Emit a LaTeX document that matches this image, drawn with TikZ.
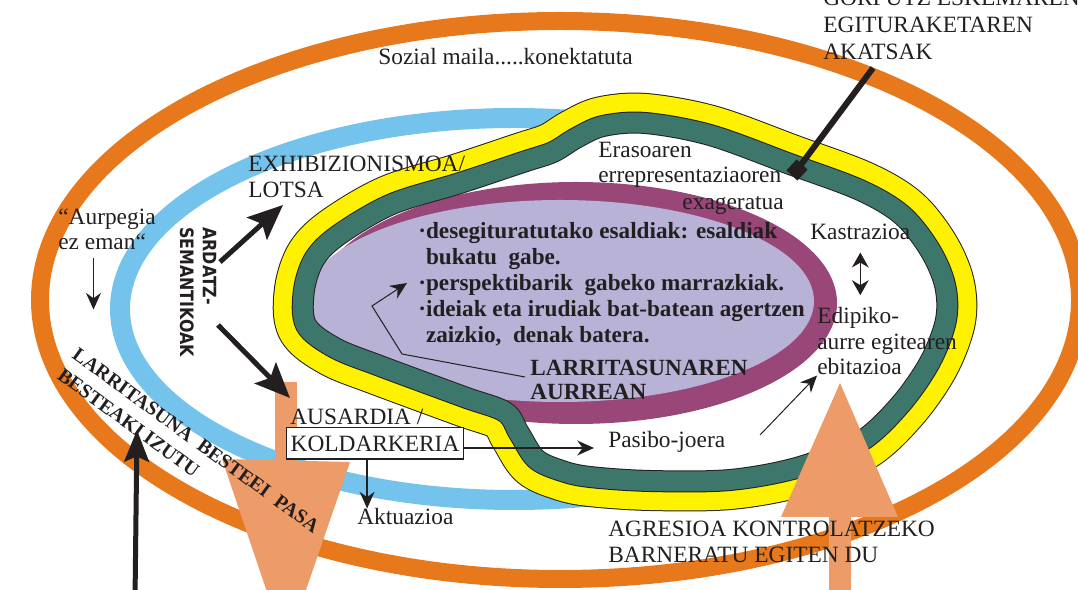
\documentclass[tikz,border=0pt]{standalone}
\usepackage{fontspec}
\setmainfont{Liberation Serif}
\newfontfamily\ardatzfont{DejaVu Sans}[FakeStretch=0.86]
\usetikzlibrary{arrows.meta}
\definecolor{orng}{RGB}{232,120,28}
\definecolor{skyb}{RGB}{115,195,237}
\definecolor{yelo}{RGB}{255,242,0}
\definecolor{grn}{RGB}{61,118,106}
\definecolor{purp}{RGB}{152,71,120}
\definecolor{lavn}{RGB}{183,178,214}
\definecolor{salm}{RGB}{237,155,104}
\definecolor{ink}{RGB}{35,31,32}
\newcommand\pxl{0.569pt}
\newcommand\blobpath{plot[smooth cycle, tension=0.55] coordinates {(306,325) (304,290) (315,258) (340,234) (392,204) (460,183) (523,162) (553,152) (576,138) (603,126) (645,123) (710,135) (790,164) (860,190) (902,215) (930,250) (945,285) (946,320) (930,362) (900,405) (860,442) (800,467) (730,480) (650,481) (590,477) (562,471) (536,459) (519,433) (505,412) (464,397) (380,366) (335,348)}}
\tikzset{> = {Stealth[length=9.5pt,width=8.5pt]},
  txt/.style={anchor=base west, inner sep=0pt, align=left, text=ink, font=\fontsize{13.3}{14.6}\selectfont},
  bold/.style={txt, font=\fontsize{13.2}{14.9}\selectfont\bfseries},
  rot/.style={txt, rotate=-36, font=\fontsize{11.3}{14.4}\selectfont\bfseries},
  ardatz/.style={txt, rotate=-90, font=\ardatzfont\bfseries\fontsize{10.5}{13}\selectfont},
  thinarr/.style={->, draw=ink, line width=1.3*\pxl},
  thickarr/.style={-{Stealth[length=20pt,width=17pt,inset=4pt]}, draw=ink, line width=5*\pxl}}
\begin{document}
\begin{tikzpicture}[x=0.02cm, y=-0.02cm]
\useasboundingbox (0,0) rectangle (1078,590);
\clip (0,0) rectangle (1078,590);
\draw[orng, line width=18*\pxl] (560,300) ellipse [x radius=520, y radius=279];
\draw[skyb, line width=20*\pxl] (514,309) ellipse [x radius=394, y radius=191];
\draw[ink, line width=60*\pxl, line join=round] \blobpath;
\draw[yelo, line width=58*\pxl, line join=round] \blobpath;
\fill[white] \blobpath;
\begin{scope}
\clip \blobpath;
\fill[purp] (576,303) ellipse [x radius=261, y radius=121];
\fill[lavn] (560,301) ellipse [x radius=254, y radius=101];
\end{scope}
\draw[ink, line width=22*\pxl] \blobpath;
\draw[grn, line width=20*\pxl] \blobpath;
\fill[salm] (275,382) rectangle (297,464);
\fill[salm] (222,459) -- (350,462) -- (286,648) -- cycle;
\fill[salm] (829,515) rectangle (851,600);
\fill[salm] (781,517) -- (898,517) -- (840,383) -- cycle;

\node[txt] (sozial) at (378,65) {Sozial maila.....konektatuta};
\node[txt, font=\fontsize{13.3}{15.4}\selectfont] (gorputz) at (823,60) {GORPUTZ ESKEMAREN\\EGITURAKETAREN\\AKATSAK};
\node[txt, font=\fontsize{13.3}{15.1}\selectfont] (exhib) at (248,198) {EXHIBIZIONISMOA/\\LOTSA};
\node[txt] (aurpeg) at (58,250) {“Aurpegia\\ez eman“};
\node[txt] (eraso) at (598,183) {Erasoaren\\errepresentaziaoren};
\node[txt, anchor=base east] (exag) at (784,210) {exageratua};
\node[bold] (bullets) at (418,343) {·desegituratutako esaldiak: esaldiak\\\phantom{·}bukatu\ \ gabe.\\·perspektibarik\ \ gabeko marrazkiak.\\·ideiak eta irudiak bat-batean agertzen\\\phantom{·}zaizkio,\ \ denak batera.};
\node[bold, font=\fontsize{13.2}{14.2}\selectfont\bfseries] (larri) at (530,400) {LARRITASUNAREN\\AURREAN};
\node[txt] (kastr) at (810,240) {Kastrazioa};
\node[txt] (edip) at (817,375) {Edipiko-\\aurre egitearen\\ebitazioa};
\node[txt] (ausar) at (290,425) {AUSARDIA /};
\node[txt, draw=ink, line width=1.2*\pxl, fill=white, inner xsep=2.3pt, inner ysep=1pt, text height=13pt, text depth=3pt] (kold) at (286,452) {KOLDARKERIA};
\node[txt] (pasibo) at (608,448) {Pasibo-joera};
\node[txt] (aktu) at (357,525) {Aktuazioa};
\node[txt] (agres) at (608,562) {AGRESIOA KONTROLATZEKO\\BARNERATU EGITEN DU};
\node[rot] (larripasa) at (56,378) {LARRITASUNA\ \ BESTEEI\ \ PASA\\BESTEAKI IZUTU};
\node[ardatz] (ardatz) at (180,227) {ARDATZ-\\SEMANTIKOAK};

\coordinate (gtop) at (873,68);
\node[fill=ink, inner sep=0pt, minimum size=8.5pt, rotate=47] (gsq) at (797,170) {};
\draw[ink, line width=6*\pxl] (gtop) -- (gsq.center);

\coordinate (ax1) at (220,262);
\coordinate (ah1) at (283,205);
\coordinate (ax2) at (218,325);
\coordinate (ah2) at (290,398);
\draw[thickarr] (ax1) -- (ah1);
\draw[thickarr] (ax2) -- (ah2);
\coordinate (bl) at (135,600);
\coordinate (bt) at (137,430);
\draw[-{Stealth[length=18pt,width=14pt,inset=3pt]}, ink, line width=5*\pxl] (bl) -- (bt);

\draw[thinarr, shorten <=4pt] ([xshift=-7.7pt]aurpeg.south) -- ++(0,59);
\draw[thinarr, shorten >=8pt] (kold.east |- pasibo.base) -- (pasibo.base west);
\draw[thinarr] ([xshift=-4.5pt]kold.south) -- ([xshift=-4.5pt]kold.south |- aktu.north);
\coordinate (pj) at (760,435);
\draw[thinarr, line width=1*\pxl] (pj) -- (edip.south west);
\draw[<->, ink, line width=1.5*\pxl, >={Stealth[length=8.5pt,width=9.5pt]}, shorten <=6.8pt, shorten >=6.8pt] (kastr.south) -- (kastr.south |- edip.north);
\coordinate (c1) at (525,377);
\coordinate (c2) at (402,354);
\coordinate (c3) at (372,306);
\coordinate (c4) at (407,283);
\draw[thinarr, line width=1*\pxl] (c1) -- (c2) -- (c3) -- (c4);
\end{tikzpicture}
\end{document}
